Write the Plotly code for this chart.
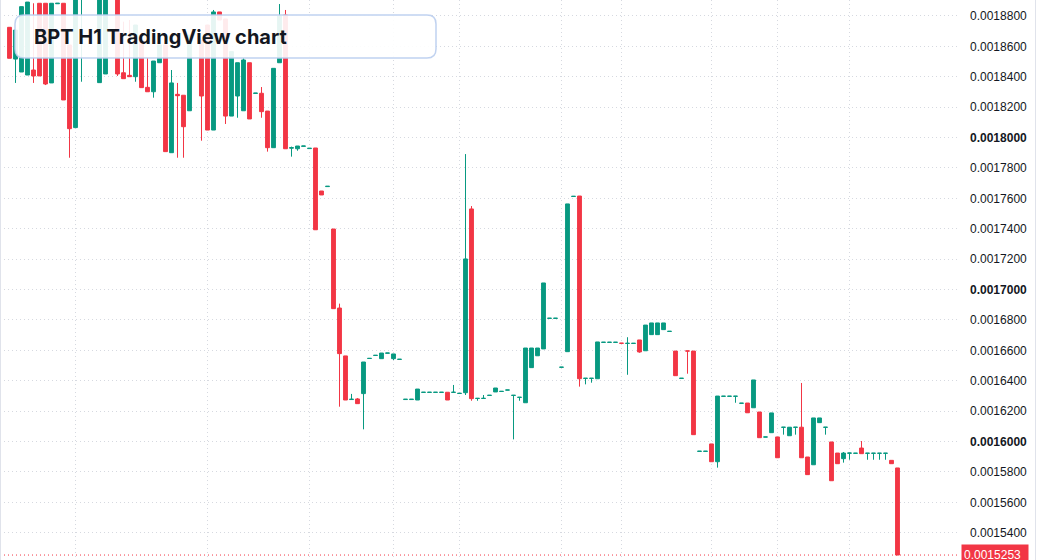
import plotly.graph_objects as go

# ---------------- data ----------------
bar_index = [0, 1, 2, 3, 4, 5, 6, 7, 8, 9, 10, 11, 12, 15, 16, 18, 19, 20, 21, 22,
             23, 24, 25, 26, 27, 28, 29, 30, 32, 33, 34, 35, 36, 37, 38, 39, 40, 41, 42, 43,
             44, 45, 46, 47, 48, 49, 50, 51, 52, 53, 54, 55, 56, 57, 58, 59, 60, 61, 62, 63,
             64, 65, 66, 67, 68, 69, 70, 71, 72, 73, 74, 75, 76, 77, 78, 79, 80, 81, 82, 83,
             84, 85, 86, 87, 88, 89, 90, 91, 92, 93, 94, 95, 96, 97, 98, 99, 100, 101, 102, 103,
             104, 105, 106, 107, 108, 109, 110, 111, 112, 113, 114, 115, 116, 117, 118, 119, 120, 121, 122, 123,
             124, 125, 126, 127, 128, 129, 130, 131, 132, 133, 134, 135, 136, 137, 138, 139, 140, 141, 142, 143,
             144, 145, 146, 147, 148]

open_ = [0.0018725, 0.0018516, 0.0018431, 0.0018411, 0.0018444, 0.0018883, 0.0018883, 0.0018359, 0.0018880, 0.0018883,
         0.0018609, 0.0018065, 0.0018938, 0.0018361, 0.0018418, 0.0018950, 0.0018426, 0.0018409, 0.0018400, 0.0018641,
         0.0018330, 0.0018301, 0.0018492, 0.0018609, 0.0017900, 0.0018284, 0.0018278, 0.0018176, 0.0018641, 0.0018740,
         0.0018049, 0.0018826, 0.0018780, 0.0018141, 0.0018273, 0.0018176, 0.0018492, 0.0018290, 0.0018291, 0.0018174,
         0.0017933, 0.0018492, 0.0018806, 0.0017930, 0.0017926, 0.0017942, 0.0017927, 0.0017931, 0.0017648, 0.0017677,
         0.0017398, 0.0016878, 0.0016563, 0.0016276, 0.0016280, 0.0016315, 0.0016546, 0.0016566, 0.0016545, 0.0016581,
         0.0016545, 0.0016540, 0.0016276, 0.0016276, 0.0016273, 0.0016323, 0.0016323, 0.0016323, 0.0016323, 0.0016324,
         0.0016323, 0.0016316, 0.0016321, 0.0017530, 0.0016283, 0.0016283, 0.0016303, 0.0016326, 0.0016329, 0.0016338,
         0.0016303, 0.0016290, 0.0016255, 0.0016486, 0.0016564, 0.0016609, 0.0016810, 0.0016810, 0.0016488, 0.0016591,
         0.0017612, 0.0017615, 0.0016415, 0.0016415, 0.0016413, 0.0016652, 0.0016652, 0.0016652, 0.0016647, 0.0016645,
         0.0016645, 0.0016668, 0.0016597, 0.0016703, 0.0016703, 0.0016736, 0.0016724, 0.0016595, 0.0016415, 0.0016596,
         0.0016595, 0.0015935, 0.0015935, 0.0015984, 0.0015867, 0.0016297, 0.0016297, 0.0016297, 0.0016251, 0.0016253,
         0.0016222, 0.0016194, 0.0016029, 0.0016058, 0.0016030, 0.0016093, 0.0016038, 0.0016093, 0.0016094, 0.0015898,
         0.0015847, 0.0016124, 0.0016093, 0.0015997, 0.0015924, 0.0015887, 0.0015923, 0.0015922, 0.0015957, 0.0015922,
         0.0015922, 0.0015922, 0.0015922, 0.0015876, 0.0015826]

high = [0.0018725, 0.0018707, 0.0018861, 0.0018891, 0.0018883, 0.0018883, 0.0018883, 0.0018883, 0.0018883, 0.0018883,
        0.0018609, 0.0018990, 0.0019003, 0.0018990, 0.0018975, 0.0018965, 0.0018762, 0.0018773, 0.0018740, 0.0018641,
        0.0018523, 0.0018503, 0.0018609, 0.0018609, 0.0018444, 0.0018359, 0.0018278, 0.0018674, 0.0018641, 0.0018740,
        0.0018839, 0.0018826, 0.0018780, 0.0018565, 0.0018492, 0.0018521, 0.0018492, 0.0018292, 0.0018332, 0.0018174,
        0.0018455, 0.0018878, 0.0018839, 0.0017940, 0.0017944, 0.0017944, 0.0017929, 0.0017931, 0.0017648, 0.0017679,
        0.0017398, 0.0016907, 0.0016563, 0.0016313, 0.0016286, 0.0016523, 0.0016547, 0.0016567, 0.0016582, 0.0016582,
        0.0016576, 0.0016541, 0.0016278, 0.0016278, 0.0016345, 0.0016324, 0.0016324, 0.0016324, 0.0016324, 0.0016324,
        0.0016372, 0.0016317, 0.0017891, 0.0017549, 0.0016284, 0.0016306, 0.0016304, 0.0016352, 0.0016330, 0.0016339,
        0.0016304, 0.0016291, 0.0016615, 0.0016615, 0.0016615, 0.0017043, 0.0016811, 0.0016811, 0.0016489, 0.0017563,
        0.0017613, 0.0017615, 0.0016416, 0.0016416, 0.0016655, 0.0016653, 0.0016653, 0.0016653, 0.0016647, 0.0016686,
        0.0016646, 0.0016668, 0.0016766, 0.0016780, 0.0016780, 0.0016780, 0.0016725, 0.0016595, 0.0016416, 0.0016596,
        0.0016595, 0.0015936, 0.0015936, 0.0015984, 0.0016299, 0.0016298, 0.0016298, 0.0016298, 0.0016252, 0.0016253,
        0.0016405, 0.0016194, 0.0016030, 0.0016188, 0.0016030, 0.0016094, 0.0016094, 0.0016094, 0.0016385, 0.0015898,
        0.0016155, 0.0016155, 0.0016094, 0.0015997, 0.0015924, 0.0015931, 0.0015924, 0.0015923, 0.0016003, 0.0015923,
        0.0015923, 0.0015923, 0.0015923, 0.0015876, 0.0015826]

low = [0.0018521, 0.0018359, 0.0018431, 0.0018411, 0.0018359, 0.0018405, 0.0018345, 0.0018359, 0.0018880, 0.0018247,
       0.0017867, 0.0018065, 0.0018367, 0.0018361, 0.0018418, 0.0018405, 0.0018387, 0.0018400, 0.0018367, 0.0018328,
       0.0018301, 0.0018262, 0.0018492, 0.0017907, 0.0017900, 0.0017867, 0.0017867, 0.0018176, 0.0017979, 0.0018049,
       0.0018049, 0.0018773, 0.0018089, 0.0018141, 0.0018130, 0.0018176, 0.0018122, 0.0018290, 0.0018130, 0.0017907,
       0.0017933, 0.0018492, 0.0017926, 0.0017874, 0.0017913, 0.0017942, 0.0017927, 0.0017393, 0.0017622, 0.0017677,
       0.0016874, 0.0016229, 0.0016273, 0.0016276, 0.0016249, 0.0016080, 0.0016546, 0.0016566, 0.0016545, 0.0016581,
       0.0016536, 0.0016540, 0.0016276, 0.0016276, 0.0016273, 0.0016323, 0.0016323, 0.0016323, 0.0016323, 0.0016273,
       0.0016323, 0.0016316, 0.0016306, 0.0016268, 0.0016268, 0.0016283, 0.0016303, 0.0016326, 0.0016329, 0.0016338,
       0.0016014, 0.0016268, 0.0016255, 0.0016486, 0.0016564, 0.0016609, 0.0016810, 0.0016810, 0.0016488, 0.0016591,
       0.0017612, 0.0016361, 0.0016376, 0.0016387, 0.0016413, 0.0016652, 0.0016652, 0.0016652, 0.0016646, 0.0016439,
       0.0016645, 0.0016584, 0.0016597, 0.0016703, 0.0016703, 0.0016736, 0.0016724, 0.0016433, 0.0016415, 0.0016446,
       0.0016045, 0.0015935, 0.0015935, 0.0015867, 0.0015828, 0.0016297, 0.0016297, 0.0016255, 0.0016251, 0.0016189,
       0.0016222, 0.0016025, 0.0016029, 0.0016058, 0.0015893, 0.0016045, 0.0016038, 0.0016045, 0.0015893, 0.0015782,
       0.0015847, 0.0016124, 0.0016045, 0.0015742, 0.0015854, 0.0015861, 0.0015880, 0.0015922, 0.0015920, 0.0015880,
       0.0015880, 0.0015880, 0.0015880, 0.0015854, 0.0015253]

close = [0.0018521, 0.0018707, 0.0018861, 0.0018891, 0.0018405, 0.0018405, 0.0018352, 0.0018883, 0.0018883, 0.0018247,
         0.0018058, 0.0018957, 0.0018984, 0.0018970, 0.0018960, 0.0018418, 0.0018387, 0.0018400, 0.0018740, 0.0018328,
         0.0018301, 0.0018503, 0.0018609, 0.0017907, 0.0018359, 0.0018275, 0.0018071, 0.0018674, 0.0018273, 0.0018049,
         0.0018826, 0.0018773, 0.0018141, 0.0018565, 0.0018492, 0.0018510, 0.0018122, 0.0018292, 0.0018170, 0.0017933,
         0.0018455, 0.0018799, 0.0017926, 0.0017933, 0.0017944, 0.0017944, 0.0017929, 0.0017393, 0.0017622, 0.0017679,
         0.0016874, 0.0016578, 0.0016273, 0.0016278, 0.0016249, 0.0016523, 0.0016547, 0.0016567, 0.0016582, 0.0016582,
         0.0016576, 0.0016541, 0.0016278, 0.0016278, 0.0016345, 0.0016324, 0.0016324, 0.0016324, 0.0016324, 0.0016273,
         0.0016324, 0.0016317, 0.0017201, 0.0016282, 0.0016284, 0.0016284, 0.0016304, 0.0016352, 0.0016330, 0.0016339,
         0.0016304, 0.0016291, 0.0016615, 0.0016615, 0.0016615, 0.0017043, 0.0016811, 0.0016811, 0.0016489, 0.0017563,
         0.0017613, 0.0016413, 0.0016416, 0.0016416, 0.0016655, 0.0016653, 0.0016653, 0.0016653, 0.0016646, 0.0016646,
         0.0016646, 0.0016589, 0.0016766, 0.0016780, 0.0016780, 0.0016780, 0.0016725, 0.0016433, 0.0016416, 0.0016595,
         0.0016045, 0.0015936, 0.0015936, 0.0015867, 0.0016299, 0.0016298, 0.0016298, 0.0016298, 0.0016252, 0.0016189,
         0.0016405, 0.0016025, 0.0016030, 0.0016188, 0.0015893, 0.0016094, 0.0016094, 0.0016094, 0.0015893, 0.0015782,
         0.0016155, 0.0016155, 0.0016094, 0.0015742, 0.0015854, 0.0015924, 0.0015924, 0.0015923, 0.0015920, 0.0015923,
         0.0015923, 0.0015923, 0.0015923, 0.0015854, 0.0015253]

price_ticks = [0.00154, 0.00156, 0.00158, 0.00160, 0.00162, 0.00164, 0.00166, 0.00168, 0.00170,
               0.00172, 0.00174, 0.00176, 0.00178, 0.00180, 0.00182, 0.00184, 0.00186, 0.00188]
price_tick_labels = ["0.0015400", "0.0015600", "0.0015800", "<b>0.0016000</b>", "0.0016200",
                     "0.0016400", "0.0016600", "0.0016800", "<b>0.0017000</b>", "0.0017200",
                     "0.0017400", "0.0017600", "0.0017800", "<b>0.0018000</b>", "0.0018200",
                     "0.0018400", "0.0018600", "0.0018800"]
time_grid_bars = [11, 33, 50, 64, 75, 92, 102, 117, 128, 140]
last_price = 0.0015253
last_price_label = "0.0015253"
title_text = "BPT H1 TradingView chart"

# ---------------- styling ----------------
UP = "#089981"
DOWN = "#f23645"
GRID = "#d6d9e0"
TEXT = "#131722"

W, H = 1037, 560
AXIS_W = 77
PLOT_W = W - AXIS_W

fig = go.Figure()
fig.add_trace(go.Candlestick(
    x=bar_index, open=open_, high=high, low=low, close=close,
    increasing=dict(line=dict(color=UP, width=1), fillcolor=UP),
    decreasing=dict(line=dict(color=DOWN, width=1), fillcolor=DOWN),
    whiskerwidth=0,
    hoverinfo="skip",
    showlegend=False,
))

# rounded title box (paper coords)
def px2paper(px, py):
    return px / PLOT_W, 1 - py / H

def P(px, py):
    a, b = px2paper(px, py)
    return f"{a:.5f},{b:.5f}"

x0, y0, x1, y1, r = 15, 15, 436, 58, 9
path = (f"M {P(x0 + r, y0)} L {P(x1 - r, y0)} Q {P(x1, y0)} {P(x1, y0 + r)} "
        f"L {P(x1, y1 - r)} Q {P(x1, y1)} {P(x1 - r, y1)} "
        f"L {P(x0 + r, y1)} Q {P(x0, y1)} {P(x0, y1 - r)} "
        f"L {P(x0, y0 + r)} Q {P(x0, y0)} {P(x0 + r, y0)} Z")

shapes = [
    dict(type="path", xref="paper", yref="paper", path=path,
         fillcolor="rgba(255,255,255,0.9)", line=dict(color="rgba(185,205,238,0.9)", width=1.5),
         layer="above"),
    dict(type="line", xref="paper", yref="y", x0=0, x1=1, y0=last_price, y1=last_price,
         line=dict(color=DOWN, width=1, dash="1px,3px"), layer="below"),
    dict(type="line", xref="paper", yref="paper", x0=0.5 / PLOT_W, x1=0.5 / PLOT_W, y0=0, y1=1,
         line=dict(color="#e0e3eb", width=1)),
    dict(type="line", xref="paper", yref="paper", x0=(W - 1.5) / PLOT_W, x1=(W - 1.5) / PLOT_W, y0=0, y1=1,
         line=dict(color="#e0e3eb", width=1)),
]

annotations = [
    dict(xref="paper", yref="paper", x=32 / PLOT_W, y=1 - 37 / H, xanchor="left", yanchor="middle",
         text=f"<b>{title_text}</b>", showarrow=False,
         font=dict(family="Inter, Roboto, sans-serif", size=20, color=TEXT)),
    dict(xref="paper", yref="y", x=1, y=last_price, xanchor="left", yanchor="middle",
         xshift=1, yshift=1, text=last_price_label, showarrow=False, bgcolor=DOWN,
         width=62, height=15, borderpad=2, align="left",
         font=dict(family="Liberation Sans, Arial, sans-serif", size=12, color="white")),
]

y_top = 0.0016 + (441.5 - 0) / 152 * 0.0001
y_bot = 0.0016 - (H - 441.5) / 152 * 0.0001
x_left = (0 - 9.5) / 6
x_right = (PLOT_W - 9.5) / 6

fig.update_layout(
    width=W, height=H,
    margin=dict(l=0, r=AXIS_W, t=0, b=0),
    paper_bgcolor="white", plot_bgcolor="white",
    boxgap=0.2, boxgroupgap=0.2,
    shapes=shapes, annotations=annotations,
    xaxis=dict(range=[x_left, x_right], rangeslider=dict(visible=False),
               tickvals=time_grid_bars, showticklabels=False, ticks="",
               showgrid=True, gridcolor=GRID, griddash="1px,3px", gridwidth=1,
               zeroline=False, showline=False, fixedrange=True),
    yaxis=dict(range=[y_bot, y_top], side="right", tickvals=price_ticks, ticktext=price_tick_labels,
               ticks="", ticklabelstandoff=9,
               tickfont=dict(family="Liberation Sans, Arial, sans-serif", size=12, color=TEXT),
               showgrid=True, gridcolor=GRID, griddash="1px,3px", gridwidth=1,
               zeroline=False, showline=False, fixedrange=True),
)

fig.write_html("out.html")
